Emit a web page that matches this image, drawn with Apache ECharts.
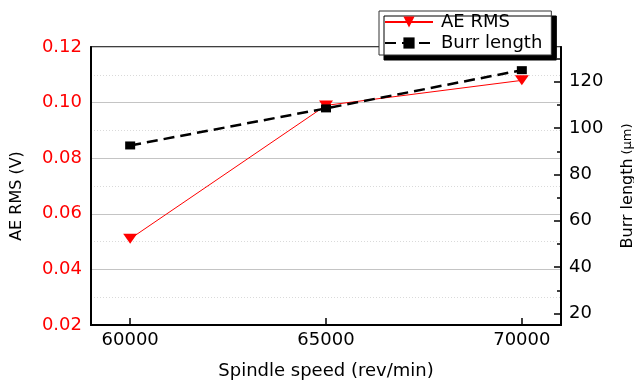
<!DOCTYPE html>
<html>
<head>
<meta charset="utf-8">
<script src="https://cdn.jsdelivr.net/npm/echarts@6/dist/echarts.min.js"></script>
<style>
html,body{margin:0;padding:0;background:#fff;}
#chart{width:634px;height:385px;}
</style>
</head>
<body>
<div id="chart"></div>
<script>
// Data
var spindleSpeed = [60000, 65000, 70000];
var aeRms = [0.051, 0.099, 0.108];
var burrLength = [92.5, 108.5, 125];
var xTickValues = [60000, 65000, 70000];
var rightMajorTicks = [20, 40, 60, 80, 100, 120];
var rightMinorTicks = [30, 50, 70, 90, 110, 130];

var FONT = 'DejaVu Sans';
var chart = echarts.init(document.getElementById('chart'), null, {renderer: 'canvas'});

function pairs(xs, ys) { return xs.map(function (x, i) { return [x, ys[i]]; }); }

var option = {
  animation: false,
  backgroundColor: '#fff',
  grid: {left: 91, right: 73, top: 47, bottom: 60, show: true, borderColor: '#000', borderWidth: 1.5,
    backgroundColor: 'transparent', containLabel: false, outerBoundsMode: 'none'},
  legend: {
    left: 379, top: 11, orient: 'vertical',
    itemWidth: 48, itemHeight: 14, itemGap: 3,
    padding: [2, 9, 3, 5],
    backgroundColor: '#fff', borderColor: '#333', borderWidth: 1,
    shadowColor: '#000', shadowBlur: 0, shadowOffsetX: 5, shadowOffsetY: 5,
    textStyle: {fontFamily: FONT, fontSize: 18, color: '#000', padding: [0, 0, 0, 3]},
    data: ['AE RMS', 'Burr length']
  },
  xAxis: {
    type: 'value', min: 59000, max: 71000,
    name: 'Spindle speed (rev/min)', nameLocation: 'middle', nameGap: 37,
    nameTextStyle: {fontFamily: FONT, fontSize: 18, color: '#000'},
    axisLine: {show: true, lineStyle: {color: '#000', width: 2}},
    axisTick: {show: true, inside: true, length: 7, customValues: xTickValues, lineStyle: {color: '#000', width: 1.5}},
    axisLabel: {customValues: xTickValues, fontFamily: FONT, fontSize: 18, color: '#000', margin: 6,
      formatter: function (v) { return String(v); }},
    splitLine: {show: false}
  },
  yAxis: [
    {
      type: 'value', position: 'left', min: 0.02, max: 0.12, interval: 0.02,
      name: 'AE RMS (V)', nameLocation: 'middle', nameRotate: 90, nameGap: 66,
      nameTextStyle: {fontFamily: FONT, fontSize: 16, color: '#000', padding: [0, 20, 0, 0]},
      axisLine: {show: true, lineStyle: {color: '#000', width: 2}},
      axisTick: {show: false},
      axisLabel: {fontFamily: FONT, fontSize: 18, color: '#ff0000', margin: 9,
        formatter: function (v) { return v.toFixed(2); }},
      splitLine: {show: true, lineStyle: {color: '#c4c4c4', width: 1}},
      minorTick: {show: false, splitNumber: 2},
      minorSplitLine: {show: true, lineStyle: {color: '#dadada', width: 1, type: [1, 2]}}
    },
    {
      type: 'value', position: 'right', min: 15, max: 135,
      name: '{a|Burr length} {b|(μm)}', nameLocation: 'middle', nameRotate: 90, nameGap: 59,
      nameTextStyle: {fontFamily: FONT, color: '#000', rich: {
        a: {fontFamily: FONT, fontSize: 16, color: '#000'},
        b: {fontFamily: FONT, fontSize: 13, color: '#000'}
      }},
      axisLine: {show: true, lineStyle: {color: '#000', width: 2}},
      axisTick: {show: true, inside: true, length: 7, customValues: rightMajorTicks, lineStyle: {color: '#000', width: 1.5}},
      axisLabel: {customValues: rightMajorTicks, fontFamily: FONT, fontSize: 18, color: '#000', margin: 8},
      splitLine: {show: false}
    },
    {
      type: 'value', position: 'right', min: 15, max: 135,
      axisLine: {show: false},
      axisTick: {show: true, inside: true, length: 4, customValues: rightMinorTicks, lineStyle: {color: '#000', width: 1.5}},
      axisLabel: {show: false},
      splitLine: {show: false}
    }
  ],
  series: [
    {
      name: 'AE RMS', type: 'line', yAxisIndex: 0,
      data: pairs(spindleSpeed, aeRms),
      symbol: 'triangle', symbolRotate: 180, symbolSize: [14, 10],
      lineStyle: {color: '#ff0000', width: 1},
      itemStyle: {color: '#ff0000'},
      z: 2
    },
    {
      name: 'Burr length', type: 'line', yAxisIndex: 1,
      data: pairs(spindleSpeed, burrLength),
      symbol: 'rect', symbolSize: [10, 8],
      lineStyle: {color: '#000', width: 2.5, type: [11, 6]},
      itemStyle: {color: '#000'},
      z: 3
    }
  ]
};
chart.setOption(option);
</script>
</body>
</html>
